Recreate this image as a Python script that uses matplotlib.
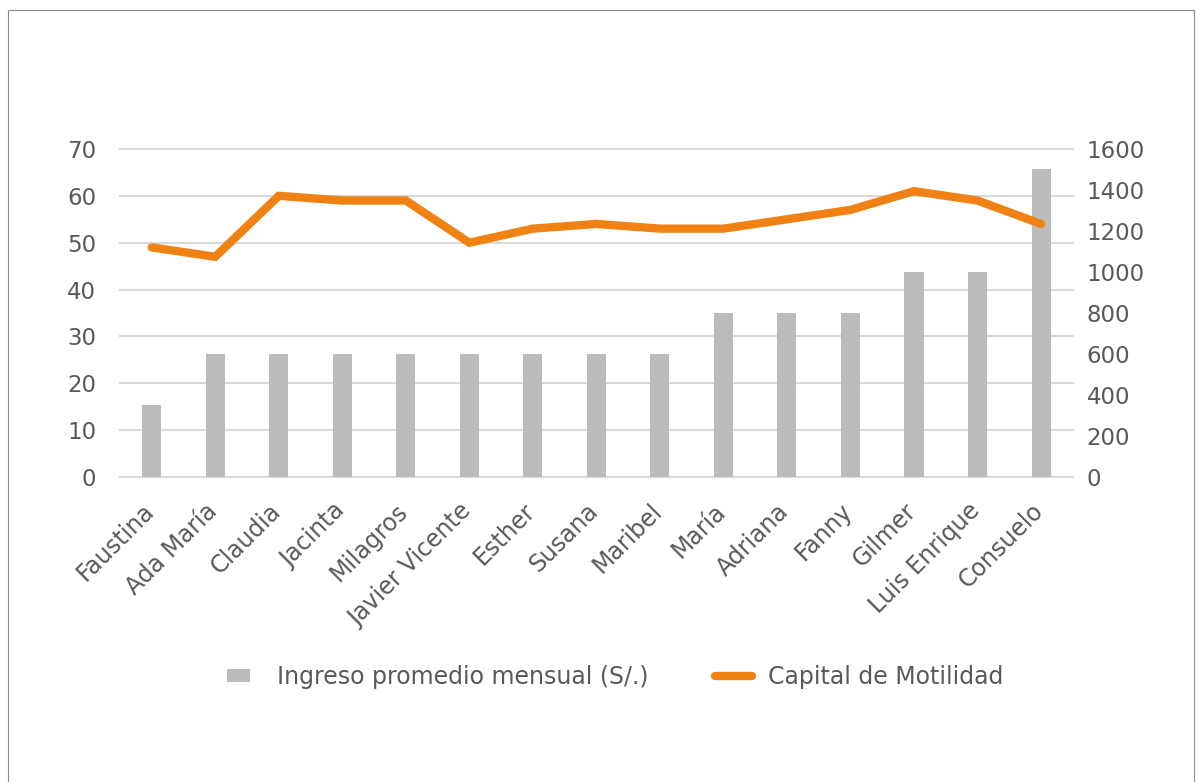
import numpy as np
import matplotlib.pyplot as plt
import matplotlib.transforms
from matplotlib.patches import Rectangle
from matplotlib.legend_handler import HandlerPatch

names = ["Faustina", "Ada María", "Claudia", "Jacinta", "Milagros", "Javier Vicente",
         "Esther", "Susana", "Maribel", "María", "Adriana", "Fanny", "Gilmer",
         "Luis Enrique", "Consuelo"]
ingreso = [350, 600, 600, 600, 600, 600, 600, 600, 600, 800, 800, 800, 1000, 1000, 1500]
motilidad = [49, 47, 60, 59, 59, 50, 53, 54, 53, 53, 55, 57, 61, 59, 54]

TXT = '#595959'
FS = 16.5
plt.rcParams['font.family'] = ['DejaVu Sans']

fig = plt.figure(figsize=(11.96, 7.82), dpi=100)
fig.patches.append(Rectangle((0.007, -0.01), 0.991, 0.997, transform=fig.transFigure,
                             fill=False, edgecolor='#8c8c8c', linewidth=0.8))

ax = fig.add_axes([0.1003, 0.390, 0.7967, 0.4195])
ax2 = ax.twinx()
x = np.arange(len(names))

# line axis on top, bars behind it
ax.set_zorder(ax2.get_zorder() + 1)
ax.patch.set_visible(False)

bars = ax2.bar(x, ingreso, width=0.3, color='#BBBBBA', zorder=2)
line, = ax.plot(x, motilidad, color='#F08113', linewidth=6, solid_capstyle='round',
                solid_joinstyle='miter')

ax.set_ylim(0, 70)
ax2.set_ylim(0, 1600)
ax.set_xlim(-0.5, len(names) - 0.5)
ax.set_yticks(range(0, 71, 10))
ax2.set_yticks(range(0, 1601, 200))

# gridlines follow the left axis; draw them on ax2 so they sit under the bars
for v in range(0, 71, 10):
    ax2.axhline(v / 70 * 1600, color='#D9D9D9', linewidth=1.5, zorder=1, clip_on=False)

for a in (ax, ax2):
    for s in a.spines.values():
        s.set_visible(False)
    a.tick_params(length=0, labelsize=FS, labelcolor=TXT)
ax.tick_params(axis='y', pad=17)
ax2.tick_params(axis='y', pad=10)

ax.set_xticks(x)
ax.set_xticklabels(names, rotation=45, ha='right', rotation_mode='anchor', fontsize=17)
ax.tick_params(axis='x', pad=10)
offset = matplotlib.transforms.ScaledTranslation(-0.10, -0.08, fig.dpi_scale_trans)
for label in ax.xaxis.get_majorticklabels():
    label.set_transform(label.get_transform() + offset)


def small_box(legend, orig_handle, xdescent, ydescent, width, height, fontsize):
    return Rectangle((xdescent + width * 0.08, ydescent + height * 0.12),
                     width * 0.6, height * 0.8)


fig.legend([bars[0], line], ["Ingreso promedio mensual (S/.)", "Capital de Motilidad"],
           loc='center', bbox_to_anchor=(0.513, 0.134), ncol=2, frameon=False, fontsize=17,
           labelcolor=TXT, columnspacing=2.8, handlelength=1.6, handletextpad=0.65,
           handler_map={bars[0]: HandlerPatch(patch_func=small_box)})

plt.savefig("out.png", dpi=100)
